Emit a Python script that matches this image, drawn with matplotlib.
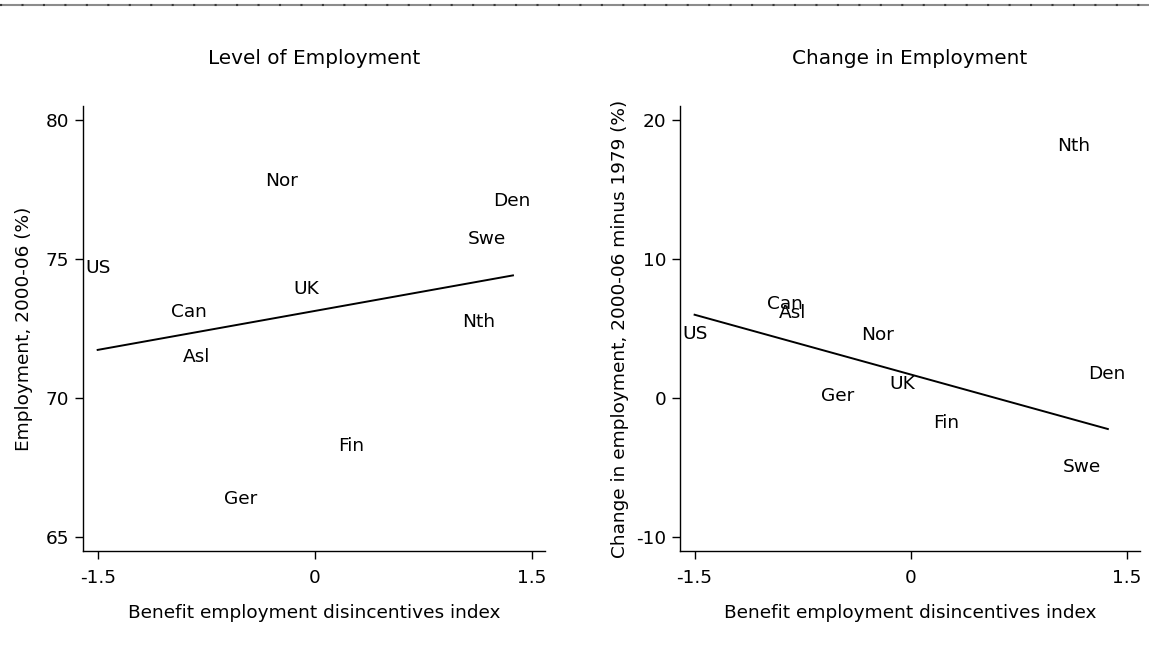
import numpy as np
import matplotlib
matplotlib.use("Agg")
import matplotlib.pyplot as plt
from matplotlib.lines import Line2D

plt.rcParams["font.family"] = ["DejaVu Sans"]
plt.rcParams["axes.unicode_minus"] = False

# data
countries = ["US", "Can", "Asl", "Ger", "Nor", "UK", "Fin", "Nth", "Swe", "Den"]
disincentive = [-1.50, -0.87, -0.82, -0.51, -0.23, -0.06, 0.25, 1.135, 1.19, 1.365]
emp_level = [74.68, 73.08, 71.49, 66.38, 77.80, 73.92, 68.27, 72.72, 75.72, 77.08]
emp_change = [4.60, 6.78, 6.11, 0.15, 4.53, 1.00, -1.82, 18.13, -4.95, 1.74]

# fitted lines (end points as shown)
fit_x = [-1.50, 1.37]
fit_level = [71.73, 74.41]
fit_change = [5.99, -2.23]

xticks = [-1.5, 0, 1.5]
xtick_labels = ["-1.5", "0", "1.5"]

fig = plt.figure(figsize=(11.49, 6.67), dpi=100)

# grey dashed rule along the top
fig.add_artist(Line2D([0, 1], [0.9925, 0.9925], color="#8c8c8c", lw=1.5))
fig.add_artist(Line2D([0, 1], [0.9925, 0.9925], color="#3a3a3a", lw=1.5,
                      linestyle=(0, (1, 9.3))))

ax1 = fig.add_axes([0.0724, 0.174, 0.402, 0.667])
ax2 = fig.add_axes([0.592, 0.174, 0.400, 0.667])

panels = [
    (ax1, emp_level, fit_level, "Level of Employment",
     "Employment, 2000-06 (%)", (64.5, 80.5), [65, 70, 75, 80], 9),
    (ax2, emp_change, fit_change, "Change in Employment",
     "Change in employment, 2000-06 minus 1979 (%)", (-11, 21), [-10, 0, 10, 20], 5),
]

fs = 13.3
for ax, yvals, fity, title, ylabel, ylim, yticks, ypad in panels:
    for name, x, y in zip(countries, disincentive, yvals):
        ax.text(x, y, name, ha="center", va="center", fontsize=fs)
    ax.plot(fit_x, fity, color="black", lw=1.4)
    ax.set_xlim(-1.6, 1.592)
    ax.set_ylim(*ylim)
    ax.set_xticks(xticks)
    ax.set_xticklabels(xtick_labels)
    ax.set_yticks(yticks)
    ax.spines["top"].set_visible(False)
    ax.spines["right"].set_visible(False)
    ax.spines["left"].set_linewidth(1.0)
    ax.spines["bottom"].set_linewidth(1.0)
    ax.tick_params(axis="x", direction="out", length=6, width=1, labelsize=fs, pad=7)
    ax.tick_params(axis="y", direction="out", length=6, width=1, labelsize=fs, pad=4)
    ax.set_title(title, fontsize=14.4, pad=30)
    ax.set_xlabel("Benefit employment disincentives index", fontsize=fs, labelpad=12)
    ax.set_ylabel(ylabel, fontsize=fs, labelpad=ypad)

fig.savefig("out.png", dpi=100, facecolor="white")
